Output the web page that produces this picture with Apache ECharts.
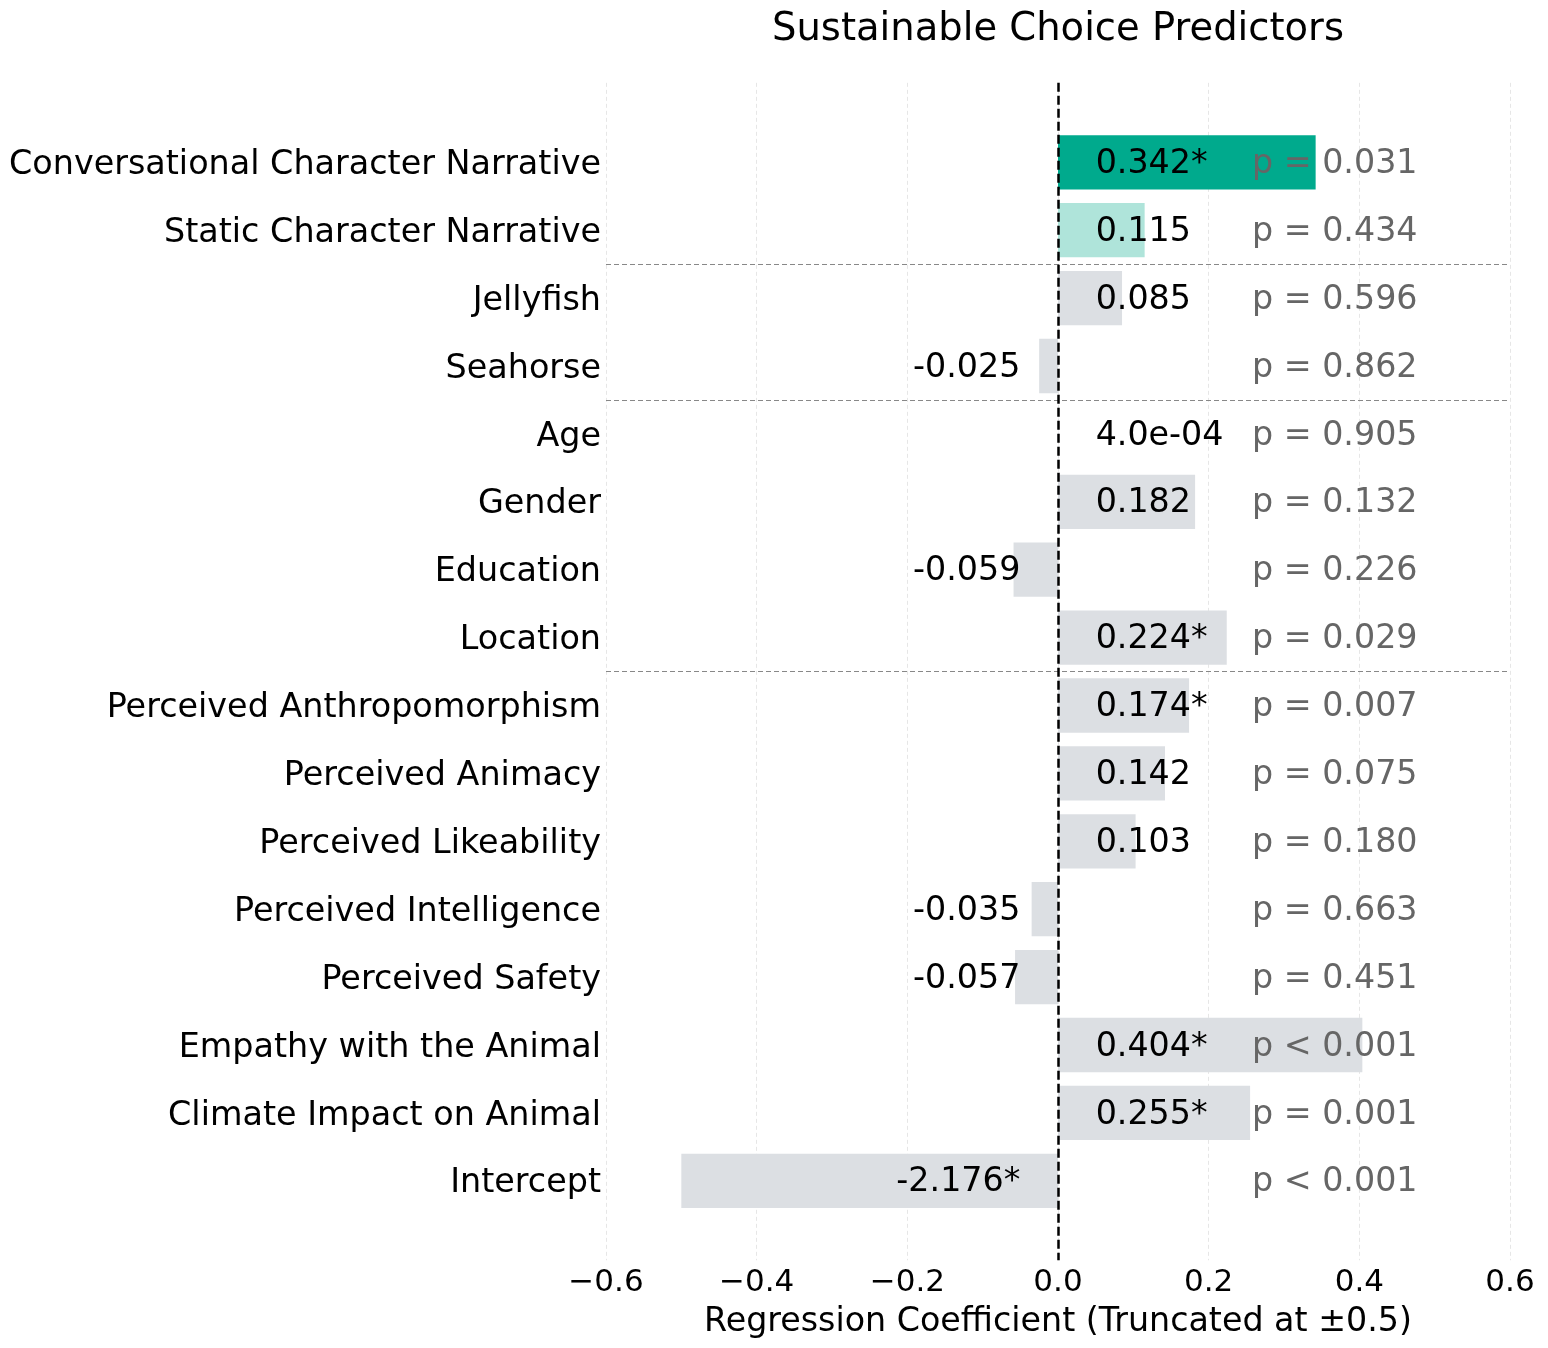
<!DOCTYPE html>
<html>
<head>
<meta charset="utf-8">
<title>Sustainable Choice Predictors</title>
<script src="https://cdn.jsdelivr.net/npm/echarts@6/dist/echarts.min.js"></script>
<style>
  html, body { margin: 0; padding: 0; background: #fff; }
  #main { width: 1548px; height: 1348px; }
</style>
</head>
<body>
<div id="main"></div>
<script>
var predictors = [
	'Conversational Character Narrative', 'Static Character Narrative',
	'Jellyfish', 'Seahorse',
	'Age', 'Gender', 'Education', 'Location',
	'Perceived Anthropomorphism', 'Perceived Animacy', 'Perceived Likeability',
	'Perceived Intelligence', 'Perceived Safety', 'Empathy with the Animal',
	'Climate Impact on Animal', 'Intercept'
];
var coefs = [0.342, 0.115, 0.085, -0.025, 0.0004, 0.182, -0.059, 0.224,
	0.174, 0.142, 0.103, -0.035, -0.057, 0.404, 0.255, -2.176];
var pValues = ['0.031', '0.434', '0.596', '0.862', '0.905', '0.132', '0.226', '0.029',
	'0.007', '0.075', '0.180', '0.663', '0.451', '<0.001', '0.001', '<0.001'];
var groupSizes = [2, 2, 4, 8];
var truncAt = 0.5;

var FONT = 'DejaVu Sans';
var colorMain = '#00aa8d';
var colorLight = '#afe4da';
var colorGray = '#dcdfe3';

function isSig(p) {
	return parseFloat(p.replace('<', '')) < 0.05;
}

function fmtCoef(v) {
	if (Math.abs(v) < 0.001) {
		// matplotlib style exponent, two digits
		var s = v.toExponential(1);
		return s.replace(/e([+-])(\d)$/, 'e$10$2');
	}
	return v.toFixed(3);
}

var barData = [];
var posLabels = [];
var negLabels = [];
var pLabels = [];
for (var i = 0; i < coefs.length; i++) {
	var v = coefs[i];
	var color = colorGray;
	if (i == 0) color = colorMain;
	if (i == 1) color = colorLight;
	barData.push({
		value: Math.max(-truncAt, Math.min(truncAt, v)),
		itemStyle: { color: color }
	});
	var txt = fmtCoef(v) + (isSig(pValues[i]) ? '*' : '');
	if (v >= 0) posLabels.push({ value: [0.05, i], txt: txt });
	else negLabels.push({ value: [-0.05, i], txt: txt });
	var p = pValues[i];
	pLabels.push({ value: [0.2575, i], txt: p.charAt(0) == '<' ? 'p < ' + p.slice(1) : 'p = ' + p });
}

// separators between predictor groups
var sepLines = [];
var acc = 0;
for (var g = 0; g < groupSizes.length - 1; g++) {
	acc += groupSizes[g];
	sepLines.push({ yAxis: acc - 0.5 });
}

var rowPad = 1.17;
var gridLeft = 606, gridRight = 38;
var rowH = 67.9;
var firstRow = 162.3;

function labelSeries(data, pos, color) {
	return {
		type: 'scatter', xAxisIndex: 0, yAxisIndex: 0,
		symbolSize: 0, z: 5, silent: true,
		itemStyle: { opacity: 1 },
		data: data,
		label: {
			show: true, position: pos, distance: 0, offset: [0, 2],
			fontFamily: FONT, fontSize: 33.3, color: color,
			formatter: function (p) { return p.data.txt; }
		}
	};
}

var chart = echarts.init(document.getElementById('main'));
var option = {
	animation: false,
	textStyle: { fontFamily: FONT },
	title: {
		text: 'Sustainable Choice Predictors',
		left: 1053,
		top: 5,
		textAlign: 'center',
		textStyle: { fontFamily: FONT, fontSize: 38.5, fontWeight: 'normal', color: '#000' }
	},
	grid: [
		{ // bars
			left: gridLeft, right: gridRight,
			top: firstRow - rowH / 2,
			height: rowH * predictors.length
		},
		{ // full axes frame
			left: gridLeft, right: gridRight,
			top: firstRow - rowH * rowPad,
			height: rowH * (predictors.length - 1 + 2 * rowPad)
		}
	],
	xAxis: [
		{ gridIndex: 0, type: 'value', min: -0.6, max: 0.6, show: false },
		{
			gridIndex: 1, type: 'value', min: -0.6, max: 0.6, interval: 0.2,
			axisLine: { show: false },
			axisTick: { show: false },
			axisLabel: {
				fontFamily: FONT, fontSize: 31, color: '#000', margin: 7,
				formatter: function (v) {
					return v < 0 ? '\u2212' + Math.abs(v).toFixed(1) : v.toFixed(1);
				}
			},
			splitLine: { show: true, lineStyle: { color: '#e6e6e6', width: 1, type: [4, 3] } },
			name: 'Regression Coefficient (Truncated at \u00b10.5)',
			nameLocation: 'middle',
			nameGap: 46,
			nameTextStyle: { fontFamily: FONT, fontSize: 33.3, color: '#000' }
		}
	],
	yAxis: [
		{
			gridIndex: 0, type: 'category', data: predictors, inverse: true,
			axisLine: { show: false },
			axisTick: { show: false },
			axisLabel: {
				margin: 5,
				formatter: function (v) { return '{a|' + v + '}'; },
				rich: {
					a: { fontFamily: FONT, fontSize: 33.4, color: '#000', padding: [6, 0, 0, 0] }
				}
			}
		},
		{
			gridIndex: 1, type: 'value', inverse: true,
			min: -rowPad, max: predictors.length - 1 + rowPad,
			show: false
		}
	],
	series: [
		{
			type: 'bar',
			xAxisIndex: 0, yAxisIndex: 0,
			data: barData,
			barWidth: '80%',
			z: 2
		},
		labelSeries(posLabels, 'right', '#000'),
		labelSeries(negLabels, 'left', '#000'),
		labelSeries(pLabels, 'right', '#666666'),
		{
			type: 'line', xAxisIndex: 1, yAxisIndex: 1,
			data: [], z: 4,
			markLine: {
				silent: true, symbol: 'none',
				label: { show: false },
				lineStyle: { color: '#888888', width: 1.2, type: [5, 3] },
				data: sepLines
			}
		},
		{
			type: 'line', xAxisIndex: 1, yAxisIndex: 1,
			data: [], z: 6,
			markLine: {
				silent: true, symbol: 'none',
				label: { show: false },
				lineStyle: { color: '#000', width: 2.5, type: [9, 4] },
				data: [{ xAxis: 0 }]
			}
		}
	]
};
chart.setOption(option);
</script>
</body>
</html>
